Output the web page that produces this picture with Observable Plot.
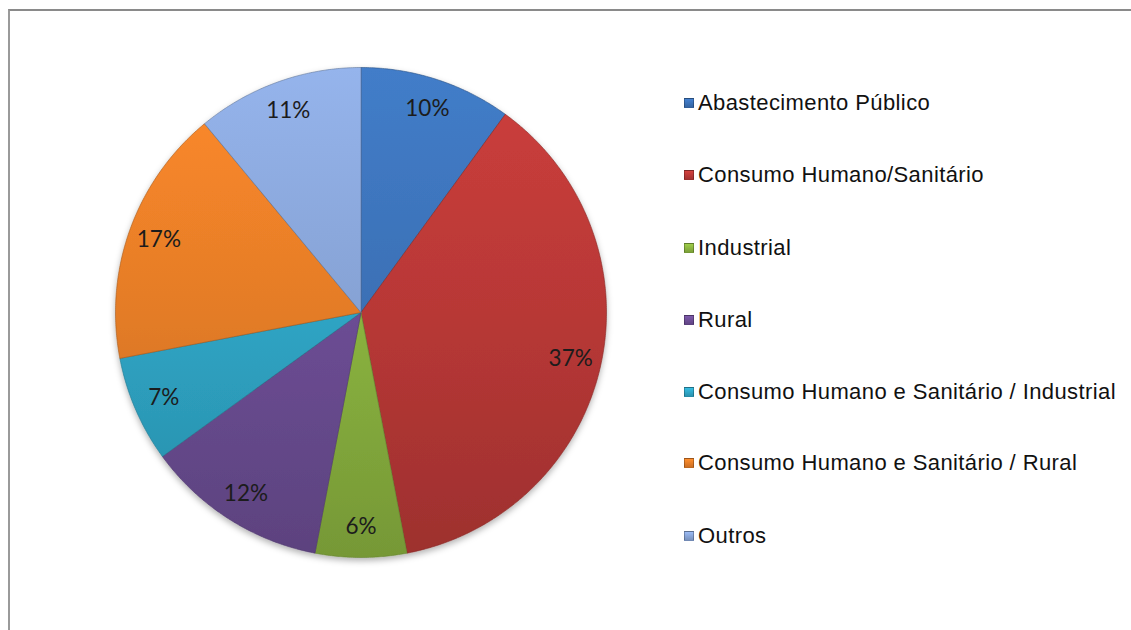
<!DOCTYPE html>
<html>
<head>
<meta charset="utf-8">
<script src="https://cdn.jsdelivr.net/npm/d3@7"></script>
<script src="https://cdn.jsdelivr.net/npm/@observablehq/plot@0.6"></script>
<style>
  html, body { margin: 0; padding: 0; background: #fff; }
  #wrap { position: relative; width: 1131px; height: 630px; overflow: hidden; }
  #frame { position: absolute; left: 8px; top: 9px; width: 1140px; height: 640px;
           border-top: 2px solid #8a8a8a; border-left: 2px solid #9a9a9a; }
  #chart { position: absolute; left: 0; top: 0; }
  #legend { position: absolute; left: 684px; top: 0; font-family: "Liberation Sans", Arial, sans-serif;
            font-size: 22px; letter-spacing: 0.4px; color: #111; }
  .item { position: absolute; left: 0; white-space: nowrap; display: flex; align-items: center; height: 30px; }
  .sw { width: 10px; height: 10px; margin-right: 4px; box-sizing: border-box; border: 1px solid rgba(0,0,0,0.25); }
</style>
</head>
<body>
<div id="wrap">
  <div id="frame"></div>
  <div id="chart"></div>
  <div id="legend"></div>
</div>
<script>
// ---- data ----
const categories = [
  "Abastecimento Público",
  "Consumo Humano/Sanitário",
  "Industrial",
  "Rural",
  "Consumo Humano e Sanitário / Industrial",
  "Consumo Humano e Sanitário / Rural",
  "Outros"
];
const values = [10, 37, 6, 12, 7, 17, 11];
const colors = ["#3b70b5", "#b83836", "#8ab33f", "#6c4d94", "#2fa4c4", "#e47c27", "#86a2d4"];
const labels = ["10%", "37%", "6%", "12%", "7%", "17%", "11%"];

// ---- geometry of slices (angles clockwise from top) ----
const pie = d3.pie().sort(null).value(d => d)(values);
const polys = [];
const labelPts = [];
pie.forEach((p, i) => {
  const a0 = p.startAngle, a1 = p.endAngle;
  polys.push({cat: i, x: 0, y: 0});
  const n = Math.max(2, Math.ceil((a1 - a0) / (Math.PI / 360)));
  for (let k = 0; k <= n; k++) {
    const a = a0 + (a1 - a0) * k / n;
    polys.push({cat: i, x: Math.sin(a), y: Math.cos(a)});
  }
  polys.push({cat: i, x: 0, y: 0});
  const am = (a0 + a1) / 2;
  labelPts.push({label: labels[i], x: 0.875 * Math.sin(am), y: 0.875 * Math.cos(am)});
});

const chart = Plot.plot({
  width: 1131,
  height: 630,
  margin: 0,
  x: {domain: [-1, 1], range: [115, 606], axis: null},
  y: {domain: [-1, 1], range: [557, 67], axis: null},
  color: {type: "identity"},
  marks: [
    Plot.line(polys, {
      x: "x", y: "y", z: "cat",
      fill: d => `url(#grad${d.cat})`,
      stroke: d => d3.color(colors[d.cat]).darker(0.9).formatHex(),
      strokeWidth: 1, strokeOpacity: 0.6, curve: "linear-closed"
    }),
    Plot.text(labelPts, {
      x: "x", y: "y", text: "label",
      fontSize: 22.5, fill: "#1c1c1c",
      fontFamily: "Lato, 'Open Sans', sans-serif"
    })
  ]
});
document.getElementById("chart").appendChild(chart);

// gradients (vertical light -> dark) & soft shadow
const svg = d3.select(chart);
const defs = svg.insert("defs", ":first-child");
const f = defs.append("filter").attr("id", "shadow").attr("x", "-10%").attr("y", "-10%").attr("width", "120%").attr("height", "125%");
f.append("feDropShadow").attr("dx", 0).attr("dy", 3).attr("stdDeviation", 3).attr("flood-color", "#000").attr("flood-opacity", 0.3);
colors.forEach((c, i) => {
  const g = defs.append("linearGradient").attr("id", "grad" + i)
    .attr("gradientUnits", "userSpaceOnUse").attr("x1", 0).attr("x2", 0).attr("y1", 67).attr("y2", 557);
  g.append("stop").attr("offset", "0%").attr("stop-color", d3.color(c).brighter(0.3).formatHex());
  g.append("stop").attr("offset", "50%").attr("stop-color", c);
  g.append("stop").attr("offset", "100%").attr("stop-color", d3.color(c).darker(0.45).formatHex());
});
svg.select("g[aria-label='line']").attr("filter", "url(#shadow)");

// legend
const legend = document.getElementById("legend");
const rowY = [103, 175, 248, 320, 392, 463, 536];
categories.forEach((cat, i) => {
  const it = document.createElement("div");
  it.className = "item";
  it.style.top = (rowY[i] - 15) + "px";
  const sw = document.createElement("span");
  sw.className = "sw";
  sw.style.background = `linear-gradient(${d3.color(colors[i]).brighter(0.4)}, ${d3.color(colors[i]).darker(0.3)})`;
  it.appendChild(sw);
  const t = document.createElement("span");
  t.textContent = cat;
  it.appendChild(t);
  legend.appendChild(it);
});
</script>
</body>
</html>
